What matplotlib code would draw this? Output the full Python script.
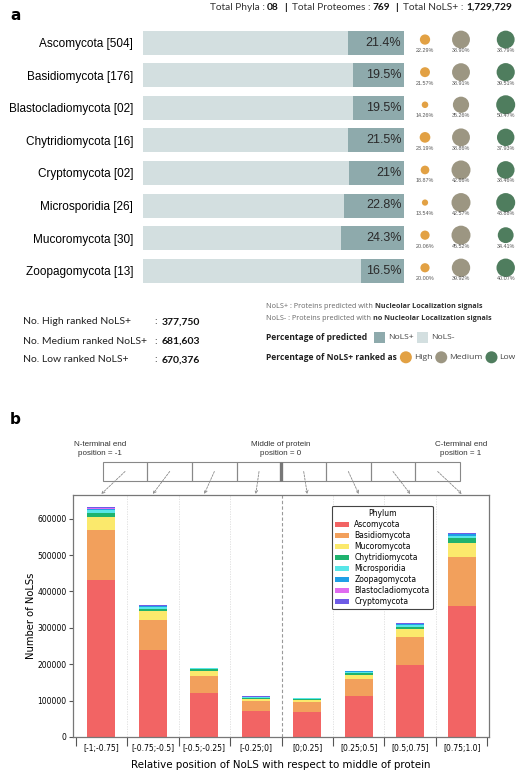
import matplotlib
matplotlib.use("Agg")
import matplotlib.pyplot as plt
from matplotlib.patches import Rectangle, Circle
import numpy as np

# ---------------- data: panel a ----------------
phyla = ["Ascomycota", "Basidiomycota", "Blastocladiomycota", "Chytridiomycota",
         "Cryptomycota", "Microsporidia", "Mucoromycota", "Zoopagomycota"]
n_proteomes = ["504", "176", "02", "16", "02", "26", "30", "13"]
nols_pos_pct = [21.4, 19.5, 19.5, 21.5, 21, 22.8, 24.3, 16.5]
pct_high = [22.29, 21.57, 14.26, 23.19, 18.87, 13.54, 20.06, 20.00]
pct_med = [38.90, 38.91, 35.26, 38.86, 42.66, 42.57, 45.52, 39.92]
pct_low = [38.79, 39.51, 50.47, 37.93, 38.46, 43.88, 34.41, 40.07]
rank_counts = [("No. High ranked NoLS+", "377,750"),
               ("No. Medium ranked NoLS+", "681,603"),
               ("No. Low ranked NoLS+", "670,376")]
totals = [("Total Phyla : ", "08"), ("Total Proteomes : ", "769"), ("Total NoLS+ : ", "1,729,729")]

# ---------------- data: panel b ----------------
bins = ["[-1;-0.75]", "[-0.75;-0.5]", "[-0.5;-0.25]", "[-0.25;0]",
        "[0;0.25]", "[0.25;0.5]", "[0.5;0.75]", "[0.75;1.0]"]
series_names = ["Ascomycota", "Basidiomycota", "Mucoromycota", "Chytridiomycota",
                "Microsporidia", "Zoopagomycota", "Blastocladiomycota", "Cryptomycota"]
asco = [431000, 238000, 121000, 72000, 68000, 113000, 197000, 360000]
basidio = [138000, 83000, 47000, 27000, 27000, 46000, 77000, 135000]
muco = [35000, 25000, 13000, 5500, 6000, 11000, 22000, 37000]
chytrid = [12000, 7000, 4500, 2500, 2500, 5000, 7000, 16000]
micro = [8000, 5000, 3000, 2500, 2500, 2500, 5000, 5000]
zoopago = [3500, 2500, 1500, 1500, 1500, 2500, 2500, 4000]
blasto = [500, 300, 200, 100, 100, 200, 300, 500]
crypto = [3000, 1500, 500, 500, 500, 1000, 1500, 4000]
series_values = [asco, basidio, muco, chytrid, micro, zoopago, blasto, crypto]
series_colors = ["#f26464", "#f2a05c", "#fbe96c", "#1fb36e", "#58e6e8", "#1f9fe6", "#e06cf0", "#6e5ce6"]

W, H = 520, 773
fig = plt.figure(figsize=(W / 100, H / 100), dpi=100)

def rect(l, t, w, h):
    return [l / W, 1 - (t + h) / H, w / W, h / H]

# ---------------- panel a bars ----------------
LIGHT = "#d3dfe0"
DARK = "#8eaaac"
axA = fig.add_axes(rect(143, 26.2, 377, 260.8))
px_per_unit = 261 / 100.0
axA.set_xlim(0, 377 / px_per_unit)
axA.set_ylim(7.5, -0.5)
y = np.arange(len(phyla))
bh = 24 / 32.6
axA.barh(y, [100] * len(phyla), height=bh, color=LIGHT)
neg = [100 - v for v in nols_pos_pct]
axA.barh(y, nols_pos_pct, left=neg, height=bh, color=DARK)
for i, v in enumerate(nols_pos_pct):
    axA.text(99, i, f"{v:g}%", ha="right", va="center", fontsize=9,
             family="Liberation Sans", color="#2a2a2a")
axA.set_yticks(y, [f"{p} [{n}]" for p, n in zip(phyla, n_proteomes)],
               fontsize=8.5, family="Liberation Sans")
axA.tick_params(axis="y", length=0, pad=7.2)
axA.set_xticks([])
for s in axA.spines.values():
    s.set_visible(False)
axA.patch.set_alpha(0)

col_x = [(425 - 143) / px_per_unit, (461 - 143) / px_per_unit, (505.7 - 143) / px_per_unit]
col_colors = ["#e2a144", "#9c9682", "#4f7d5e"]
for cx, vals, cc in zip(col_x, [pct_high, pct_med, pct_low], col_colors):
    d = np.minimum(0.46 * np.array(vals), 19.0)
    axA.scatter([cx] * len(vals), y - 0.09, s=(0.72 * d) ** 2, color=cc,
                edgecolors="none", clip_on=False, zorder=3)
    for i, v in enumerate(vals):
        axA.annotate(f"{v:.2f}%", (cx, i), xytext=(0, -5.8), textcoords="offset points",
                     ha="center", va="center", fontsize=3.9, color="#555555",
                     family="Liberation Sans")

# ---------------- panel b chart ----------------
axB = fig.add_axes(rect(73, 495, 416, 242))
x = np.arange(len(bins))
bottom = np.zeros(len(bins))
for name, vals, col in zip(series_names, series_values, series_colors):
    axB.bar(x, vals, width=0.55, bottom=bottom, color=col, label=name)
    bottom += np.array(vals)
axB.set_xlim(-0.55, 7.53)
axB.set_ylim(0, 665000)
axB.set_yticks(np.arange(0, 600001, 100000))
axB.tick_params(axis="y", labelsize=5.5, length=3, width=0.8, color="#555", pad=1.5)
axB.set_xticks(x, bins)
axB.tick_params(axis="x", which="major", length=0, labelsize=5.5, pad=5)
axB.set_xticks(np.arange(-0.5, 8, 1), minor=True)
axB.tick_params(axis="x", which="minor", length=6.5, width=0.8, color="#555")
for b in np.arange(0.5, 7, 1):
    if abs(b - 3.5) < 1e-6:
        axB.axvline(b, color="#999999", lw=0.8, ls=(0, (3, 2)), zorder=0)
    else:
        axB.axvline(b, color="#dddddd", lw=0.6, ls=(0, (1.5, 1.5)), zorder=0)
for s in axB.spines.values():
    s.set_color("#777777")
    s.set_linewidth(0.9)
axB.set_ylabel("Number of NoLSs", fontsize=7.2, labelpad=1)
axB.set_xlabel("Relative position of NoLS with respect to middle of protein",
               fontsize=7.4, labelpad=5)
leg = axB.legend(title="Phylum", loc="upper left", bbox_to_anchor=(0.622, 0.956),
                 fontsize=5.5, title_fontsize=5.5, frameon=True, fancybox=True,
                 handlelength=1.75, handleheight=0.65, handletextpad=0.75,
                 labelspacing=0.26, borderpad=0.45, borderaxespad=0,
                 edgecolor="#444444")
leg.get_frame().set_linewidth(0.8)
leg.get_frame().set_alpha(1)

# ---------------- overlay in pixel coords ----------------
ov = fig.add_axes([0, 0, 1, 1])
ov.set_xlim(0, W)
ov.set_ylim(H, 0)
ov.axis("off")
ov.patch.set_alpha(0)
renderer = fig.canvas.get_renderer()

def seq(xpos, ypos, items, align="left"):
    arts = []
    total = 0
    for it in items:
        kind = it[0]
        if kind == "t":
            t = ov.text(0, ypos, it[1], va="center", ha="left", **it[2])
            w = t.get_window_extent(renderer).width
            arts.append(("t", t, w))
            total += w
        elif kind == "g":
            arts.append(("g", None, it[1]))
            total += it[1]
        elif kind == "sq":
            arts.append(("sq", it[1], it[2]))
            total += it[2]
        elif kind == "ci":
            arts.append(("ci", it[1], it[2]))
            total += it[2]
    cur = xpos if align == "left" else xpos - total
    for kind, obj, w in arts:
        if kind == "t":
            obj.set_x(cur)
        elif kind == "sq":
            ov.add_patch(Rectangle((cur, ypos - w / 2), w, w, color=obj, lw=0))
        elif kind == "ci":
            ov.add_patch(Circle((cur + w / 2, ypos), w / 2, color=obj, lw=0))
        cur += w

# panel letters
ov.text(10, 15, "a", fontsize=11, fontweight="bold", va="center", ha="left")
ov.text(10, 419, "b", fontsize=11, fontweight="bold", va="center", ha="left")

# header totals
hn = dict(fontsize=7.3, family="Lato", color="#333333")
hb = dict(fontsize=7.3, family="Lato", color="#111111", fontweight="bold")
items = []
for k, (lab, val) in enumerate(totals):
    items += [("t", lab, hn), ("t", val, hb)]
    if k < len(totals) - 1:
        items += [("g", 5), ("t", "|", hb), ("g", 5)]
seq(512, 7, items, align="right")

# rank counts
for k, (lab, val) in enumerate(rank_counts):
    yy = [321.7, 341, 360][k]
    ov.text(23, yy, lab, fontsize=7.5, family="Lato", color="#222222", va="center")
    seq(155, yy, [("t", ": ", dict(fontsize=7.5, family="Lato", color="#222222")),
                  ("g", 1),
                  ("t", val, dict(fontsize=7.5, family="Lato", color="#111111", fontweight="bold"))])

# legend text
sn = dict(fontsize=5.2, family="Open Sans", color="#666666")
sb = dict(fontsize=5.2, family="Open Sans", color="#333333", fontweight="bold")
seq(266, 306, [("t", "NoLS+ : Proteins predicted with", sn), ("g", 2),
               ("t", "Nucleolar Localization signals", sb)])
seq(266, 318.3, [("t", "NoLS- : Proteins predicted with", sn), ("g", 2),
                 ("t", "no Nucleolar Localization signals", sb)])
lb = dict(fontsize=6.1, family="Open Sans", color="#222222", fontweight="bold")
ln = dict(fontsize=6.1, family="Open Sans", color="#444444")
seq(266, 337.3, [("t", "Percentage of predicted", lb), ("g", 7), ("sq", DARK, 11), ("g", 3),
                 ("t", "NoLS+", ln), ("g", 3), ("sq", LIGHT, 11), ("g", 3), ("t", "NoLS-", ln)])
seq(266, 357.3, [("t", "Percentage of NoLS+ ranked as", lb), ("g", 3), ("ci", col_colors[0], 12),
                 ("g", 2), ("t", "High", ln), ("g", 3), ("ci", col_colors[1], 12), ("g", 2),
                 ("t", "Medium", ln), ("g", 3), ("ci", col_colors[2], 12), ("g", 2), ("t", "Low", ln)])

# schematic
bx0, bx1, by0, by1 = 102.7, 460.0, 461.7, 481.0
bw = (bx1 - bx0) / len(bins)
for i in range(len(bins)):
    ov.add_patch(Rectangle((bx0 + i * bw, by0), bw, by1 - by0, fill=False,
                           edgecolor="#888888", lw=0.8))
ov.plot([bx0 + 4 * bw] * 2, [by0, by1], color="#777777", lw=2.4, solid_capstyle="butt")
sf = dict(fontsize=5.8, family="Liberation Sans", color="#333333", ha="center", va="center",
          linespacing=1.25)
ov.text(100, 449, "N-terminal end\nposition = -1", **sf)
ov.text(281, 449, "Middle of protein\nposition = 0", **sf)
ov.text(461, 449, "C-terminal end\nposition = 1", **sf)

top_y = axB.get_ylim()[1]
for i in range(len(bins)):
    dx, dy = axB.transData.transform((i, top_y))
    ex, ey = dx, H - dy - 1
    sx = bx0 + (i + 0.5) * bw
    ov.annotate("", xy=(ex, ey), xytext=(sx, 471.5),
                arrowprops=dict(arrowstyle="->", color="#888888", lw=0.6,
                                linestyle=(0, (2.5, 1.5)), shrinkA=0, shrinkB=0,
                                mutation_scale=5))

fig.savefig("out.png", dpi=100)
